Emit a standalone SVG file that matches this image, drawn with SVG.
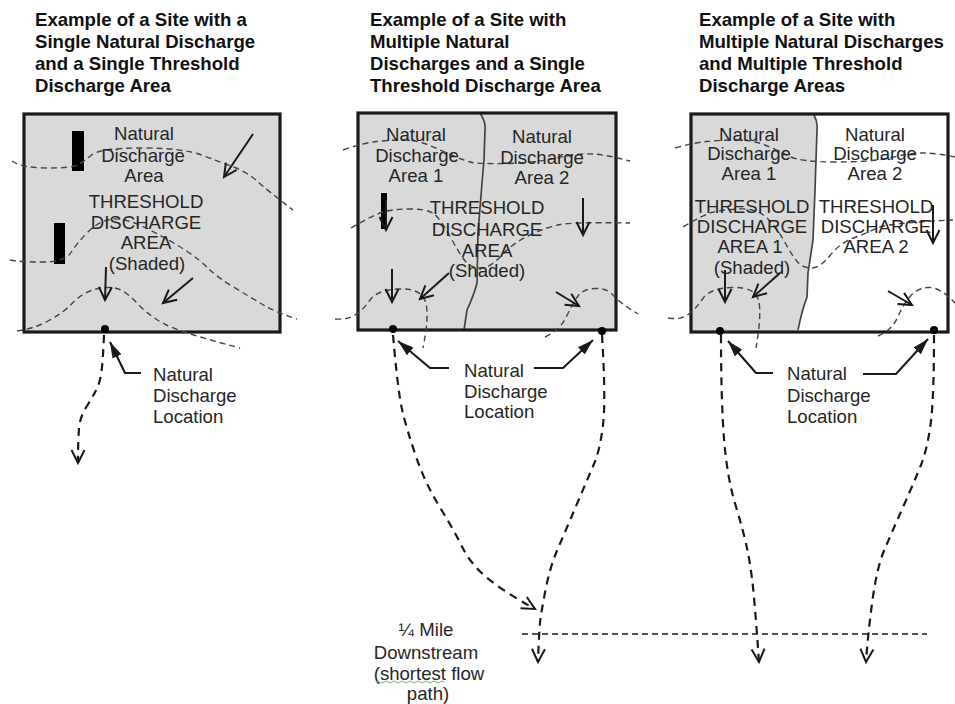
<svg xmlns="http://www.w3.org/2000/svg" width="955" height="704" viewBox="0 0 955 704">
<style>
text{font-family:"Liberation Sans",Arial,sans-serif;font-size:18.6px;fill:#262626}
.t{font-weight:700;fill:#111;font-size:18.6px}
.m{text-anchor:middle}
.site{stroke:#1a1a1a;stroke-width:3.2}
.shade{fill:#d9d9d9}
.div{fill:none;stroke:#444;stroke-width:1.7}
.cont{fill:none;stroke:#444;stroke-width:1.4;stroke-dasharray:6 4}
.flow{fill:none;stroke:#1a1a1a;stroke-width:2.2;stroke-dasharray:8 6;marker-end:url(#open)}
.arr{fill:none;stroke:#1a1a1a;stroke-width:2;marker-end:url(#open)}
.lead{fill:none;stroke:#1a1a1a;stroke-width:2.1;marker-end:url(#solid)}
.bar{fill:#000}
.dot{fill:#000}
</style>
<defs>
<marker id="open" markerUnits="userSpaceOnUse" markerWidth="18" markerHeight="18" refX="14" refY="9" orient="auto"><path d="M1 2.5L14 9L1 15.5" fill="none" stroke="#1a1a1a" stroke-width="2"/></marker>
<marker id="solid" markerUnits="userSpaceOnUse" markerWidth="18" markerHeight="14" refX="16" refY="7" orient="auto"><path d="M0 2L16 7L0 12Z" fill="#1a1a1a"/></marker>
</defs>

<g id="panel-1">
<rect class="shade" x="24" y="114" width="256" height="218"/>
<rect class="bar" x="72" y="131" width="12" height="40"/>
<rect class="bar" x="54" y="223" width="11" height="41"/>
<rect class="site" x="24" y="114" width="256" height="218" fill="none"/>
</g>
<g id="panel-2">
<rect class="shade" x="358" y="113" width="258" height="217"/>
<rect class="bar" x="381" y="193" width="6" height="36"/>
<path class="div" d="M480 113Q486 122 485 130L484 160L482 183L478 233L477 283Q474 295 467 310L464 330"/>
<rect class="site" x="358" y="113" width="258" height="217" fill="none"/>
</g>
<g id="panel-3">
<path class="shade" d="M691 114H814Q818 122 817 130L815 190L813 240L808 273L807 297Q802 310 798 332H691Z"/>
<path class="div" d="M814 115Q818 122 817 130L815 190L813 240L808 273L807 297Q802 310 798 330"/>
<rect class="site" x="691" y="114" width="257" height="218" fill="none"/>
</g>

<g id="connectors">
<path class="cont" d="M12 161Q22 168 47 168T77.5 165T91.5 155T141.5 148T201.5 155T233.5 167T257 181T293 210"/>
<path class="cont" d="M10 260Q20 262 42.5 262T71 252.5T88.5 231.5T113.5 219T150 230T186.5 251T208.5 268.5T233.5 287T263.5 305T297 319"/>
<path class="cont" d="M17 331Q33 329 48 321T71.5 304T90 291T111.5 287.5T136.5 302.5T166.5 325T240 348"/>
<polyline class="arr" points="253,134 224,177"/>
<polyline class="arr" points="193,278 163,303"/>
<polyline class="arr" points="106,267 105,300"/>
<path class="flow" d="M104 335Q103 360 101.5 371.5T96 390.5T86 407.5T79 428.5T78 463"/>
<polyline class="lead" points="141,373 125,373 110,342"/>

<path class="cont" d="M343 150Q363 143 376.5 141.5T403.5 140T428.5 145T451.5 155T470 162T505 163.5T556.5 158T593.5 154T630 161"/>
<path class="cont" d="M351 228Q373 215 383 212T410 209T433.5 213.5T451.5 239T468 264T481.5 268T501.5 255.5T530 235T560 224.5T630 223"/>
<path class="cont" d="M335 319Q347 320 355 315T370 300T398.5 289T425 300.5T423 348"/>
<path class="cont" d="M545 337Q560 330 566.5 316.5T578 296T595 288.5T613.5 295.5T638 314"/>
<polyline class="arr" points="583,198 583,235"/>
<polyline class="arr" points="392,269 392,302"/>
<polyline class="arr" points="449,273 420,299"/>
<polyline class="arr" points="556,292 579,306"/>
<polyline class="arr" points="386,200 386,230"/>
<polyline class="lead" points="449,368 430,368 398,341"/>
<polyline class="lead" points="534,368 563,368 593,340"/>
<path class="flow" d="M393 335Q398 393 402.5 411.5T416 456.5T440 507.5T462.5 547.5T485.5 576.5T535 609"/>
<path class="flow" d="M602 335Q606 400 603 425T594 464T576.5 505T557.5 549.5T545.5 590T540 623T538 662"/>

<path class="cont" d="M675 148Q693 143 706.5 141.5T736.5 140T765 145T788.5 156T836.5 162T891.5 157.5T923.5 153T955 157"/>
<path class="cont" d="M683 227Q703 215 711.5 212.5T738.5 209T767 218T785 242.5T798 262.5T811.5 268T830 255.5T853.5 238T877 228T953 220"/>
<path class="cont" d="M668 318Q680 320 687.5 315T702.5 299T732.5 287.5T758.5 300T756 348"/>
<path class="cont" d="M878 336Q892 330 897.5 317.5T910 296.5T928.5 287.5T955 303"/>
<polyline class="arr" points="933,205 933,243"/>
<polyline class="arr" points="725,270 725,302"/>
<polyline class="arr" points="780,273 753,297"/>
<polyline class="arr" points="888,291 912,305"/>
<polyline class="lead" points="773,373 756,373 728,341"/>
<polyline class="lead" points="863,374 896,374 928,339"/>
<path class="flow" d="M721 335Q721 400 724 438.5T735.5 505T748 553T754.5 603T759 662"/>
<path class="flow" d="M934 335Q934 400 930.5 425T921 465T903.5 506T884.5 549.5T872.5 600T866 662"/>
<line x1="522" y1="634" x2="927" y2="634" fill="none" stroke="#1a1a1a" stroke-width="1.3" stroke-dasharray="6 4"/>
</g>

<g id="dots">
<circle class="dot" cx="105" cy="329" r="4"/>
<circle class="dot" cx="393" cy="329" r="4"/>
<circle class="dot" cx="602" cy="331" r="4"/>
<circle class="dot" cx="720" cy="331" r="4"/>
<circle class="dot" cx="934" cy="330" r="4"/>
</g>

<g id="titles">
<text class="t" x="35" y="26">Example of a Site with a</text>
<text class="t" x="35" y="48">Single Natural Discharge</text>
<text class="t" x="35" y="70">and a Single Threshold</text>
<text class="t" x="35" y="92">Discharge Area</text>
<text class="t" x="370" y="26">Example of a Site with</text>
<text class="t" x="370" y="48">Multiple Natural</text>
<text class="t" x="370" y="70">Discharges and a Single</text>
<text class="t" x="370" y="92">Threshold Discharge Area</text>
<text class="t" x="699" y="26">Example of a Site with</text>
<text class="t" x="699" y="48">Multiple Natural Discharges</text>
<text class="t" x="699" y="70">and Multiple Threshold</text>
<text class="t" x="699" y="92">Discharge Areas</text>
</g>

<g id="labels-1">
<text class="m" x="144" y="140">Natural</text>
<text class="m" x="143" y="162">Discharge</text>
<text class="m" x="144" y="182">Area</text>
<text class="m" x="146" y="208">THRESHOLD</text>
<text class="m" x="146" y="229">DISCHARGE</text>
<text class="m" x="146" y="249">AREA</text>
<text class="m" x="147" y="270">(Shaded)</text>
<text x="153" y="381">Natural</text>
<text x="153" y="402">Discharge</text>
<text x="153" y="423">Location</text>
</g>
<g id="labels-2">
<text class="m" x="416" y="141">Natural</text>
<text class="m" x="417" y="162">Discharge</text>
<text class="m" x="416" y="182">Area 1</text>
<text class="m" x="542" y="143">Natural</text>
<text class="m" x="542" y="164">Discharge</text>
<text class="m" x="542" y="184">Area 2</text>
<text class="m" x="487" y="214">THRESHOLD</text>
<text class="m" x="487" y="236">DISCHARGE</text>
<text class="m" x="487" y="257">AREA</text>
<text class="m" x="487" y="277">(Shaded)</text>
<text x="464" y="377">Natural</text>
<text x="464" y="398">Discharge</text>
<text x="464" y="418">Location</text>
</g>
<g id="labels-3">
<text class="m" x="749" y="141">Natural</text>
<text class="m" x="749" y="160">Discharge</text>
<text class="m" x="749" y="180">Area 1</text>
<text class="m" x="875" y="141">Natural</text>
<text class="m" x="875" y="160">Discharge</text>
<text class="m" x="875" y="180">Area 2</text>
<text class="m" x="752" y="213">THRESHOLD</text>
<text class="m" x="752" y="233">DISCHARGE</text>
<text class="m" x="750" y="253">AREA 1</text>
<text class="m" x="752" y="274">(Shaded)</text>
<text class="m" x="876" y="213">THRESHOLD</text>
<text class="m" x="876" y="233">DISCHARGE</text>
<text class="m" x="876" y="253">AREA 2</text>
<text x="787" y="380">Natural</text>
<text x="787" y="402">Discharge</text>
<text x="787" y="423">Location</text>
</g>
<g id="labels-4">
<text class="m" x="426" y="636">¼ Mile</text>
<text class="m" x="426" y="659">Downstream</text>
<text class="m" x="429" y="680">(shortest flow</text>
<text class="m" x="428" y="700">path)</text>
<path d="M376 682q2 -2 4 0t4 0t4 0t4 0t4 0t4 0t4 0t4 0t4 0t4 0t4 0t4 0t4 0t4 0t4 0t4 0t4 0" fill="none" stroke="#6fb36f" stroke-width="1"/>
</g>
</svg>
